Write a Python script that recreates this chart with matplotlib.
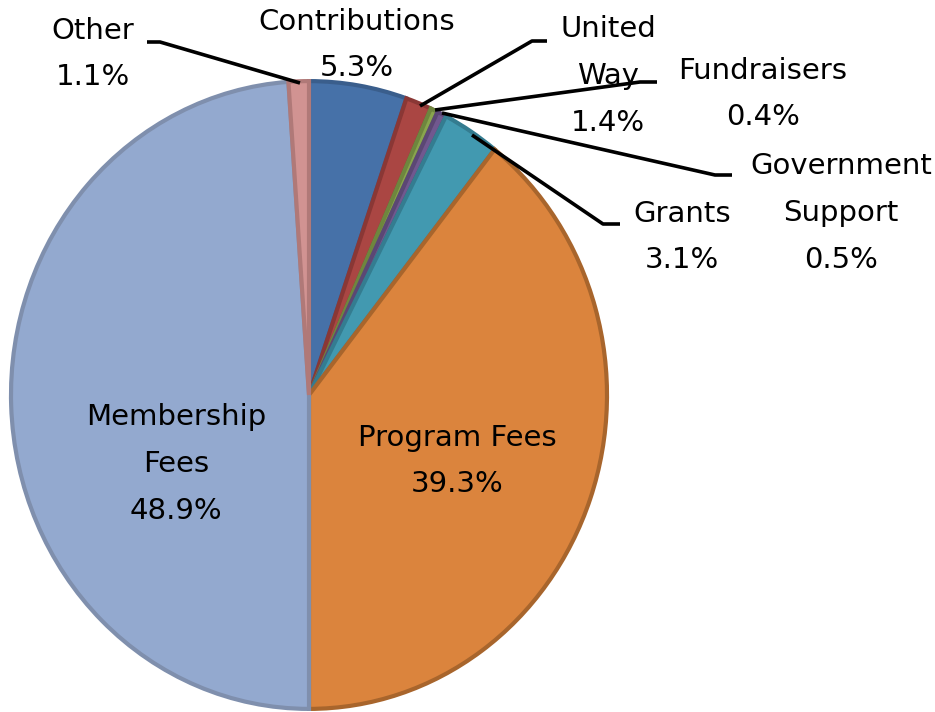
import numpy as np
import matplotlib
matplotlib.use("Agg")
import matplotlib.pyplot as plt

# revenue share (%), clockwise from 12 o'clock
labels = ["Contributions", "United\nWay", "Fundraisers", "Government\nSupport",
          "Grants", "Program Fees", "Membership\nFees", "Other"]
values = [5.3, 1.4, 0.4, 0.5, 3.1, 39.3, 48.9, 1.1]

colors = ["#4671A8", "#AA4643", "#89A54E", "#71588F",
          "#4299B0", "#DB843D", "#93A9CF", "#D19392"]
edges = ["#3A5E8C", "#8A3735", "#6E863E", "#5B4774",
          "#347C90", "#A8652C", "#7F8FAD", "#B07978"]

W, H = 935, 712
K = 316 / 300.0  # picture is a bit stretched vertically


def px(x, y):
    # pixel position (from top left) -> data coords
    return x, (H - y) / K


fig = plt.figure(figsize=(W / 100, H / 100), dpi=100)
ax = fig.add_axes([0, 0, 1, 1])

wedges, _ = ax.pie(values, colors=colors, startangle=90, counterclock=False,
                   center=px(309, 395), radius=298, frame=True,
                   wedgeprops=dict(linewidth=3))
for w, ec in zip(wedges, edges):
    w.set_edgecolor(ec)
ax.set_xlim(0, W)
ax.set_ylim(0, H / K)
ax.set_aspect("auto")
ax.axis("off")

font = dict(fontsize=21, ha="center", va="center", linespacing=1.85,
            color="black")

# label positions (pixel centres)
pos = {
    "Other": (93, 54),
    "Contributions": (357, 45),
    "United\nWay": (608, 76),
    "Fundraisers": (763, 94),
    "Government\nSupport": (841, 213),
    "Grants": (682, 237),
    "Program Fees": (457, 461),
    "Membership\nFees": (176, 464),
}
for lab, v in zip(labels, values):
    x, y = px(*pos[lab])
    ax.text(x, y, f"{lab}\n{v}%", **font)

# leader lines
leaders = [
    [(147, 42), (160, 42), (300, 83)],
    [(547, 41), (532, 41), (420, 106)],
    [(657, 82), (640, 82), (435, 110)],
    [(732, 175), (715, 175), (442, 113)],
    [(620, 224), (603, 224), (472, 135)],
]
for pts in leaders:
    xs, ys = zip(*[px(a, b) for a, b in pts])
    ax.plot(xs, ys, color="black", lw=2.6, solid_capstyle="butt", zorder=5)

plt.savefig("out.png", dpi=100)
